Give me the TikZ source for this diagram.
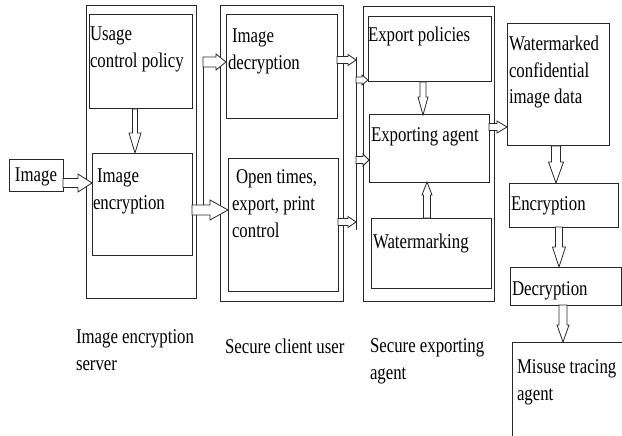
\documentclass[tikz,border=0pt]{standalone}
\usepackage{fontspec}
\setmainfont[FakeStretch=0.8]{Liberation Serif}
\usetikzlibrary{calc}
\definecolor{linec}{RGB}{40,40,40}
\tikzset{
  box/.style={draw=linec, line width=1pt, inner sep=0pt, outer sep=0pt, anchor=north west},
  txt/.style={anchor=north west, inner sep=0pt, outer sep=0pt, align=left, font=\fontsize{21}{27}\selectfont, text=black},
  harr/.style={draw=linec, line width=0.8pt, fill=white, line join=miter},
  busline/.style={draw=linec, line width=1pt}
}
% box: name, x1, y1, x2, y2 (pixel units)
\newcommand\bx[5]{\node[box, minimum width={(#4)-(#2)}, minimum height={(#5)-(#3)}] (#1) at (#2,#3) {};}
% text: name, x, baseline y, text
\newcommand\tx[4]{\node[txt] (#1) at (#2,{#3-18.9}) {\strut #4};}
% horizontal hollow arrow: from, to, y, shaft half width, head half width, head length
\newcommand\harrow[6]{%
  \draw[harr] let \p1=(#1), \p2=(#2), \p3=(0,#3), \n1={(\x2-\x1)/abs(\x2-\x1)} in
  (\x1,\y3+#4pt) -- (\x2-\n1*#6pt,\y3+#4pt) -- (\x2-\n1*#6pt,\y3+#5pt) -- (\x2,\y3)
  -- (\x2-\n1*#6pt,\y3-#5pt) -- (\x2-\n1*#6pt,\y3-#4pt) -- (\x1,\y3-#4pt) -- cycle;}
% vertical hollow arrow: from, to, x, shaft half width, head half width, head length
\newcommand\varrow[6]{%
  \draw[harr] let \p1=(#1), \p2=(#2), \p3=(#3,0), \n1={(\y2-\y1)/abs(\y2-\y1)} in
  (\x3+#4pt,\y1) -- (\x3+#4pt,\y2-\n1*#6pt) -- (\x3+#5pt,\y2-\n1*#6pt) -- (\x3,\y2)
  -- (\x3-#5pt,\y2-\n1*#6pt) -- (\x3-#4pt,\y2-\n1*#6pt) -- (\x3-#4pt,\y1) -- cycle;}
\begin{document}
\begin{tikzpicture}[x=1pt,y=-1pt]
\useasboundingbox (0,0) rectangle (622,436);
\clip (0,0) rectangle (622,436);
\fill[white] (0,0) rectangle (622,436);
% outer groups
\bx{serv}{86}{6}{196}{298}
\bx{client}{220}{6}{343}{301}
\bx{expo}{363}{7}{494}{301}
% inner boxes
\bx{img}{9}{159}{63}{191}
\bx{usage}{89}{15}{192}{109}
\bx{enc}{92}{153}{192}{255}
\bx{dec}{226}{15}{337}{119}
\bx{open}{228}{158}{338}{291}
\bx{pol}{368}{17}{491}{82}
\bx{agent}{369}{115}{489}{182}
\bx{wm}{371}{218}{491}{288}
\bx{wcid}{507}{24}{609}{146}
\bx{encr}{509}{183}{618}{227}
\bx{decr}{510}{267}{621}{305}
\bx{mis}{512}{342}{650}{460}
% texts
\tx{t-usage}{90}{41}{Usage\\control policy}
\tx{t-img}{15}{182}{Image}
\tx{t-enc}{93}{182}{\hspace{4pt}Image\\encryption}
\tx{t-dec}{228}{43}{\hspace{4pt}Image\\decryption}
\tx{t-open}{232}{183}{\hspace{4pt}Open times,\\export, print\\control}
\tx{t-pol}{368}{42}{Export policies}
\tx{t-agent}{371}{142}{Exporting agent}
\tx{t-wm}{373}{248}{Watermarking}
\tx{t-wcid}{509}{50}{Watermarked\\confidential\\image data}
\tx{t-encr}{511}{210}{Encryption}
\tx{t-decr}{512}{295}{Decryption}
\tx{t-mis}{517}{373}{Misuse tracing\\agent}
\tx{l-serv}{76}{343}{Image encryption\\server}
\tx{l-client}{225}{353}{Secure client user}
\tx{l-expo}{370}{352}{Secure exporting\\agent}
% bus lines
\coordinate (bus0t) at (203,60);
\coordinate (bus0b) at (203,205);
\coordinate (bus1t) at (356,57);
\coordinate (bus1b) at (356,230);
\draw[busline] (bus0t) -- (bus0b);
\draw[busline] (bus1t) -- (bus1b);
% arrows
\harrow{img.east}{enc.west}{183}{4.5}{9}{14}
\varrow{usage.south}{enc.north}{135}{2.5}{6}{20}
\harrow{enc.east}{open.west}{210}{5}{10}{18}
\harrow{bus0t}{dec.west}{62}{5}{8}{10}
\harrow{dec.east}{bus1t}{60}{3.5}{5.5}{8}
\harrow{open.east}{bus1t}{222}{3.5}{5.5}{8}
\harrow{bus1t}{pol.west}{80}{3}{5}{6}
\harrow{bus1t}{agent.west}{160}{3.5}{6}{6}
\varrow{pol.south}{agent.north}{423}{3}{5}{18}
\varrow{wm.north}{agent.south}{427}{3.5}{5}{13}
\harrow{agent.east}{wcid.west}{127}{3.5}{6}{10}
\varrow{wcid.south}{encr.north}{556}{4.5}{7.5}{21}
\varrow{encr.south}{decr.north}{559}{3.5}{6.5}{20}
\varrow{decr.south}{mis.north}{563}{4}{6}{17}
\end{tikzpicture}
\end{document}
